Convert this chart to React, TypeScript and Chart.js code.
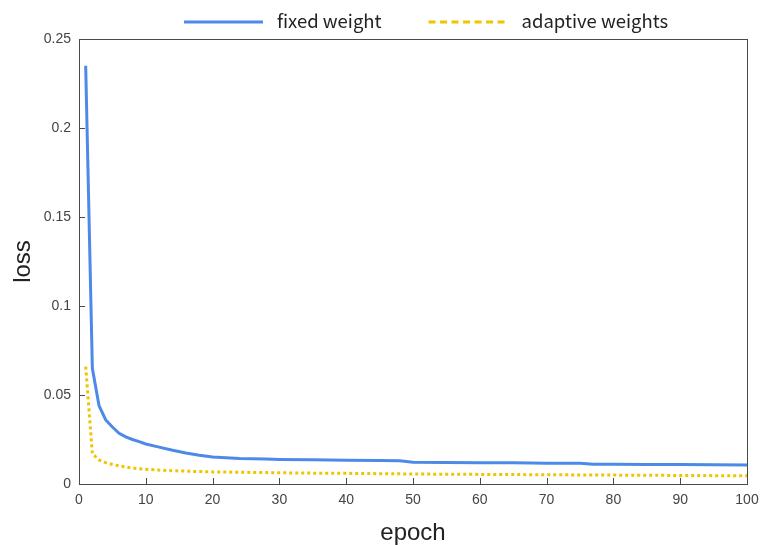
import React, { useEffect, useRef } from "react";
import { Chart, registerables } from "chart.js";

Chart.register(...registerables);

const epochs = [1, 2, 3, 4, 5, 6, 7, 8, 9, 10, 12, 14, 16, 18, 20, 22, 24, 26, 28, 30, 35, 40, 45, 48, 50, 55, 60, 65, 70, 75, 77, 80, 85, 90, 95, 100];

const fixedWeight = [0.235, 0.065, 0.044, 0.036, 0.032, 0.0285, 0.0265, 0.025, 0.0238, 0.0225, 0.0207, 0.019, 0.0174, 0.0162, 0.0152, 0.0147, 0.0143, 0.0142, 0.014, 0.0138, 0.0136, 0.0134, 0.0132, 0.0131, 0.0122, 0.0121, 0.012, 0.0119, 0.0117, 0.0116, 0.0111, 0.0111, 0.011, 0.0109, 0.0108, 0.0107];

const adaptiveWeights = [0.066, 0.017, 0.0135, 0.012, 0.011, 0.0102, 0.0095, 0.009, 0.0086, 0.0083, 0.0078, 0.0075, 0.0072, 0.007, 0.0068, 0.0067, 0.0066, 0.0065, 0.0064, 0.0063, 0.0061, 0.006, 0.0058, 0.0057, 0.0056, 0.0055, 0.0054, 0.0053, 0.0052, 0.0051, 0.005, 0.005, 0.0049, 0.0048, 0.0047, 0.0046];

const seriesNames = ["fixed weight", "adaptive weights"];
const seriesColors = ["#4d8ae8", "#f0c400"];

const xTicks = [0, 10, 20, 30, 40, 50, 60, 70, 80, 90, 100];
const yTicks = [0, 0.05, 0.1, 0.15, 0.2, 0.25];
const yTickLabels = ["0", "0.05", "0.1", "0.15", "0.2", "0.25"];

export default function App() {
  const ref = useRef<HTMLCanvasElement>(null);

  useEffect(() => {
    if (!ref.current) return;

    const framePlugin = {
      id: "frame",
      afterDraw(chart: any) {
        const { ctx, chartArea: a, scales } = chart;
        ctx.save();
        ctx.strokeStyle = "#4a4a4a";
        ctx.lineWidth = 1;
        ctx.setLineDash([]);
        ctx.strokeRect(Math.round(a.left) + 0.5, Math.round(a.top) + 0.5, Math.round(a.right - a.left), Math.round(a.bottom - a.top));
        ctx.beginPath();
        for (const v of xTicks) {
          const x = Math.round(scales.x.getPixelForValue(v)) + 0.5;
          ctx.moveTo(x, a.bottom);
          ctx.lineTo(x, a.bottom - 6);
        }
        for (const v of yTicks) {
          const y = Math.round(scales.y.getPixelForValue(v)) + 0.5;
          ctx.moveTo(a.left, y);
          ctx.lineTo(a.left + 6, y);
        }
        ctx.stroke();

        // legend
        const lineLen = 79;
        const textGap = 14;
        const itemGap = 47;
        const legendDash = [[], [7, 4.5]];
        ctx.font = '18.5px "Noto Sans CJK SC", "Noto Sans", sans-serif';
        ctx.textBaseline = "middle";
        ctx.textAlign = "left";
        let x = a.left + 105;
        const lineY = 22;
        const textY = 20.5;
        seriesNames.forEach((name, i) => {
          ctx.beginPath();
          ctx.strokeStyle = seriesColors[i];
          ctx.lineWidth = 3;
          ctx.setLineDash(legendDash[i]);
          ctx.moveTo(x, lineY);
          ctx.lineTo(x + lineLen, lineY);
          ctx.stroke();
          ctx.setLineDash([]);
          ctx.fillStyle = "#222";
          ctx.fillText(name, x + lineLen + textGap, textY);
          x += lineLen + textGap + ctx.measureText(name).width + itemGap;
        });
        ctx.restore();
      },
    };

    const chart = new Chart(ref.current, {
      type: "line",
      data: {
        datasets: [
          {
            label: seriesNames[0],
            data: epochs.map((e, i) => ({ x: e, y: fixedWeight[i] })),
            borderColor: seriesColors[0],
            backgroundColor: seriesColors[0],
            borderWidth: 3,
            pointRadius: 0,
            tension: 0,
          },
          {
            label: seriesNames[1],
            data: epochs.map((e, i) => ({ x: e, y: adaptiveWeights[i] })),
            borderColor: seriesColors[1],
            backgroundColor: seriesColors[1],
            borderWidth: 3,
            borderDash: [3, 3],
            borderCapStyle: "butt",
            pointRadius: 0,
            tension: 0,
          },
        ],
      },
      options: {
        responsive: false,
        animation: false,
        layout: { padding: { top: 39, right: 17, left: 0, bottom: 0 } },
        plugins: {
          legend: { display: false },
          tooltip: { enabled: false },
        },
        scales: {
          x: {
            type: "linear",
            min: 0,
            max: 100,
            grid: { display: false, drawTicks: false },
            border: { display: false },
            ticks: {
              stepSize: 10,
              padding: 8,
              color: "#444",
              font: { family: '"Liberation Sans", Arial, sans-serif', size: 14 },
              maxRotation: 0,
            },
            title: {
              display: true,
              text: "epoch",
              color: "#222",
              padding: { top: 0, bottom: -3 },
              font: { family: '"Liberation Sans", Arial, sans-serif', size: 24 },
            },
            afterFit(scale: any) {
              scale.height = 61;
              scale.paddingRight = 0;
              scale.paddingLeft = 0;
            },
          },
          y: {
            type: "linear",
            min: 0,
            max: 0.25,
            grid: { display: false, drawTicks: false },
            border: { display: false },
            ticks: {
              stepSize: 0.05,
              padding: 8,
              color: "#444",
              font: { family: '"Liberation Sans", Arial, sans-serif', size: 14 },
              callback: (v: any) => {
                const idx = yTicks.findIndex((t) => Math.abs(t - Number(v)) < 1e-9);
                return idx >= 0 ? yTickLabels[idx] : "";
              },
            },
            title: {
              display: true,
              text: "loss",
              color: "#222",
              padding: { top: 9, bottom: 0 },
              font: { family: '"Liberation Sans", Arial, sans-serif', size: 24 },
            },
            afterFit(scale: any) {
              scale.width = 79;
              scale.paddingTop = 0;
              scale.paddingBottom = 0;
            },
          },
        },
      },
      plugins: [framePlugin],
    });

    return () => chart.destroy();
  }, []);

  return (
    <div style={{ position: "absolute", left: 0, top: 0, width: 764, height: 545, background: "#fff" }}>
      <canvas ref={ref} width={764} height={545} style={{ display: "block" }} />
    </div>
  );
}
